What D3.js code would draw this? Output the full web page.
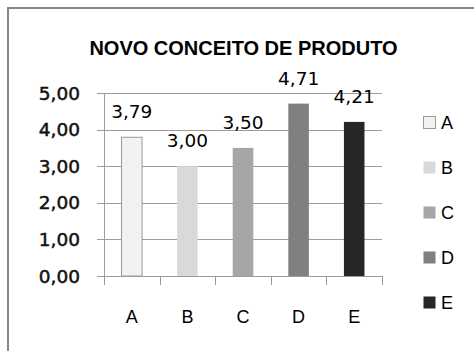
<!DOCTYPE html>
<html><head><meta charset="utf-8">
<script src="https://cdn.jsdelivr.net/npm/d3@7"></script>
<style>body{margin:0;background:#fff}svg{display:block}</style>
</head><body>
<script>
const categories = ["A","B","C","D","E"];
const values = [3.79, 3.00, 3.50, 4.71, 4.21];
const colors = ["#f2f2f2","#d9d9d9","#a6a6a6","#808080","#262626"];
const yTicks = [0,1,2,3,4,5];
const title = "NOVO CONCEITO DE PRODUTO";
const fmt = v => v.toFixed(2).replace(".", ",");

const W = 474, H = 351;
const svg = d3.select("body").append("svg").attr("width", W).attr("height", H);
svg.append("rect").attr("width", W).attr("height", H).attr("fill", "#fff");
svg.append("rect").attr("x", 8).attr("y", 8).attr("width", 520).attr("height", 420)
  .attr("fill", "none").attr("stroke", "#878787").attr("stroke-width", 2);

const x = d3.scaleBand().domain(categories).range([104, 382]).paddingInner(0.63).paddingOuter(0.315);
const y = d3.scaleLinear().domain([0, 5]).range([276, 93]);

// gridlines
svg.append("g").selectAll("line").data(yTicks).join("line")
  .attr("x1", 97).attr("x2", 382)
  .attr("y1", d => Math.round(y(d)) + 0.5).attr("y2", d => Math.round(y(d)) + 0.5)
  .attr("stroke", "#9c9c9c").attr("stroke-width", 1);

// y axis line
svg.append("line").attr("x1", 104.5).attr("x2", 104.5).attr("y1", Math.round(y(5))).attr("y2", Math.round(y(0)) + 1)
  .attr("stroke", "#9c9c9c");

// x axis ticks at band boundaries
const step = x.step();
const bounds = d3.range(categories.length + 1).map(i => x.range()[0] + i * step);
svg.append("g").selectAll("line").data(bounds).join("line")
  .attr("x1", d => Math.round(d) + 0.5).attr("x2", d => Math.round(d) + 0.5)
  .attr("y1", Math.round(y(0))).attr("y2", Math.round(y(0)) + 9)
  .attr("stroke", "#9c9c9c");

// y tick labels
svg.append("g").selectAll("text").data(yTicks).join("text")
  .attr("x", 80).attr("y", d => y(d) + 6.5).attr("text-anchor", "end")
  .attr("font-family", "DejaVu Sans").attr("font-size", 18.5)
  .attr("fill", "#111").attr("stroke", "#111").attr("stroke-width", 0.5).text(d => fmt(d));

// bars
svg.append("g").selectAll("rect").data(values).join("rect")
  .attr("x", (d, i) => x(categories[i])).attr("width", x.bandwidth())
  .attr("y", d => y(d)).attr("height", d => y(0) - y(d))
  .attr("fill", (d, i) => colors[i])
  .attr("stroke", (d, i) => i === 0 ? "#9a9a9a" : "none").attr("stroke-width", 1);

// value labels
svg.append("g").selectAll("text").data(values).join("text")
  .attr("x", (d, i) => x(categories[i]) + x.bandwidth() / 2)
  .attr("y", d => y(d) - 19).attr("text-anchor", "middle")
  .attr("font-family", "DejaVu Sans").attr("font-size", 18.5).attr("fill", "#000")
  .text(d => fmt(d));

// x labels
svg.append("g").selectAll("text").data(categories).join("text")
  .attr("x", d => x(d) + x.bandwidth() / 2).attr("y", 323).attr("text-anchor", "middle")
  .attr("font-family", "Liberation Sans").attr("font-size", 18).attr("fill", "#000")
  .text(d => d);

// title
svg.append("text").attr("x", 243.5).attr("y", 55).attr("text-anchor", "middle")
  .attr("font-family", "Liberation Sans").attr("font-weight", "bold").attr("font-size", 20)
  .attr("fill", "#000").text(title);

// legend
const leg = svg.append("g").selectAll("g").data(categories).join("g")
  .attr("transform", (d, i) => `translate(423, ${122 + i * 45})`);
leg.append("rect").attr("x", 0.5).attr("y", -5.5).attr("width", 12).attr("height", 12)
  .attr("fill", (d, i) => colors[i]).attr("stroke", (d, i) => i === 0 ? "#9a9a9a" : "none");
leg.append("text").attr("x", 18).attr("y", 6.5)
  .attr("font-family", "Liberation Sans").attr("font-size", 18).attr("fill", "#000").text(d => d);
</script>
</body></html>
